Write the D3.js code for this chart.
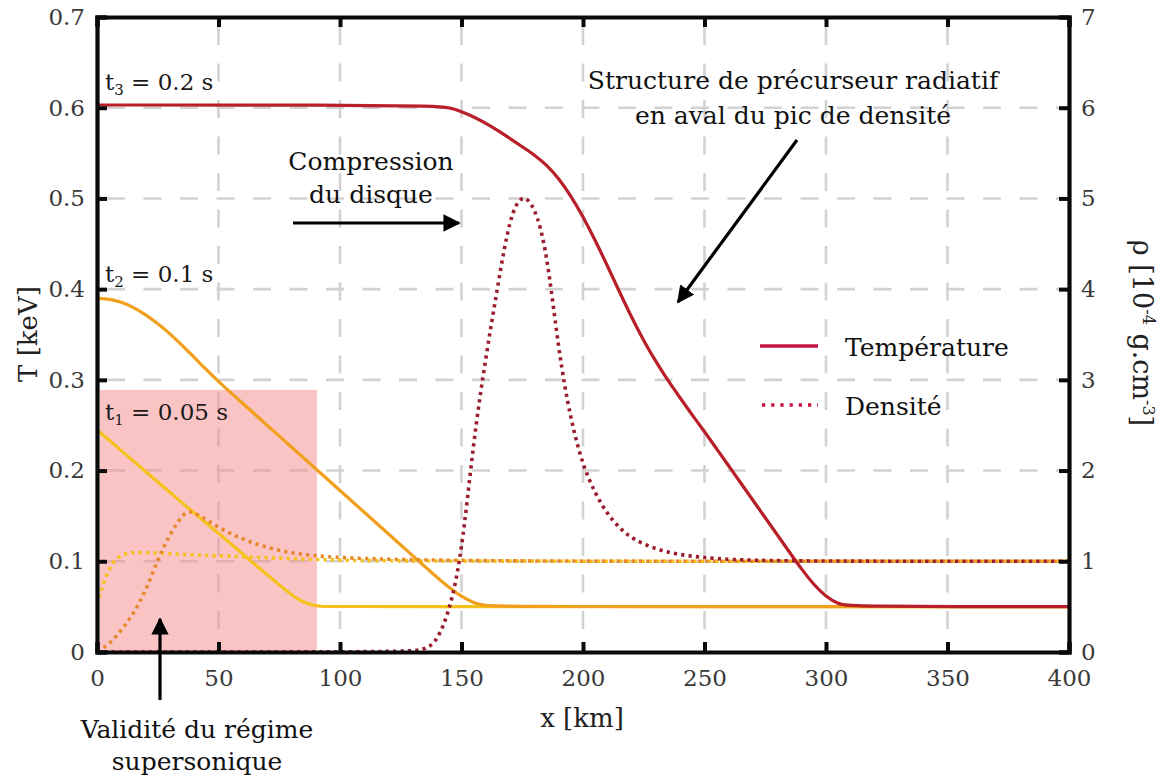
<!DOCTYPE html>
<html>
<head>
<meta charset="utf-8">
<script src="https://cdn.jsdelivr.net/npm/d3@7/dist/d3.min.js"></script>
<style>
  html, body { margin: 0; padding: 0; background: #fff; }
  svg { display: block; }
  text { font-family: "DejaVu Serif", "Liberation Serif", serif; }
</style>
</head>
<body>
<svg id="chart" width="1169" height="780"></svg>
<script>
// ---------- DATA ----------
const xTicks = [0, 50, 100, 150, 200, 250, 300, 350, 400];
const tTicks = [0, 0.1, 0.2, 0.3, 0.4, 0.5, 0.6, 0.7];
const tTickLabels = ["0", "0.1", "0.2", "0.3", "0.4", "0.5", "0.6", "0.7"];
const rhoTicks = [0, 1, 2, 3, 4, 5, 6, 7];

// t1 = 0.05 s
const t1TempX = [0, 10, 20, 30, 40, 50, 60, 70, 75, 80, 84, 88, 92, 100, 400];
const t1TempY = [0.245, 0.222, 0.199, 0.176, 0.153, 0.131, 0.108, 0.085, 0.074, 0.063, 0.056, 0.052, 0.050, 0.050, 0.050];
const t1DensX = [0, 2, 5, 8, 12, 16, 25, 40, 60, 80, 100, 130, 400];
const t1DensY = [0.52, 0.72, 0.92, 1.04, 1.09, 1.10, 1.09, 1.07, 1.05, 1.03, 1.01, 1.00, 1.00];

// t2 = 0.1 s
const t2TempX = [0, 5, 10, 15, 20, 25, 30, 35, 40, 45, 50, 60, 70, 80, 90, 100, 110, 120, 125, 130, 135, 140, 145, 150, 155, 160, 165, 400];
const t2TempY = [0.390, 0.389, 0.386, 0.380, 0.372, 0.362, 0.351, 0.338, 0.325, 0.311, 0.298, 0.274, 0.250, 0.226, 0.202, 0.178, 0.154, 0.130, 0.118, 0.106, 0.094, 0.082, 0.071, 0.061, 0.054, 0.051, 0.050, 0.050];
const t2DensX = [0, 5, 10, 15, 20, 25, 30, 35, 38, 42, 50, 60, 70, 80, 90, 100, 120, 150, 180, 400];
const t2DensY = [0.01, 0.08, 0.24, 0.42, 0.67, 1.02, 1.30, 1.51, 1.56, 1.51, 1.37, 1.24, 1.15, 1.09, 1.06, 1.04, 1.02, 1.01, 1.00, 1.00];

// t3 = 0.2 s
const t3TempX = [0, 100, 140, 145, 150, 155, 160, 165, 170, 175, 180, 185, 190, 195, 200, 205, 210, 215, 220, 225, 230, 235, 240, 245, 250, 255, 260, 265, 270, 275, 280, 285, 290, 295, 300, 305, 310, 400];
const t3TempY = [0.603, 0.603, 0.602, 0.600, 0.596, 0.590, 0.583, 0.575, 0.566, 0.557, 0.548, 0.537, 0.522, 0.503, 0.480, 0.454, 0.426, 0.397, 0.369, 0.343, 0.320, 0.299, 0.280, 0.261, 0.243, 0.224, 0.205, 0.186, 0.167, 0.148, 0.129, 0.110, 0.091, 0.074, 0.061, 0.053, 0.050, 0.050];
const t3DensX = [0, 125, 135, 140, 145, 150, 155, 160, 165, 170, 175, 180, 185, 190, 195, 200, 205, 210, 215, 220, 230, 240, 250, 260, 280, 400];
const t3DensY = [0, 0, 0.02, 0.12, 0.45, 1.05, 2.35, 3.25, 4.05, 4.82, 5.06, 4.92, 4.45, 3.30, 2.55, 2.05, 1.75, 1.52, 1.37, 1.25, 1.13, 1.07, 1.04, 1.02, 1.00, 1.00];

const timeLabels = [
  { sub: "3", val: "0.2 s", baseT: 0.619 },
  { sub: "2", val: "0.1 s", baseT: 0.408 },
  { sub: "1", val: "0.05 s", baseT: 0.256 }
];
const supersonicEdge = [0, 90.5]; // km
const supersonicTop = 0.289;       // keV

// ---------- LAYOUT ----------
const svg = d3.select("#chart");
const x = d3.scaleLinear().domain([0, 400]).range([97, 1069]);
const yT = d3.scaleLinear().domain([0, 0.7]).range([652, 17]);
const yR = d3.scaleLinear().domain([0, 7]).range([652, 17]);

const zip = (xs, ys) => xs.map((v, i) => [v, ys[i]]);

// grid
const grid = svg.append("g");
grid.selectAll("line.gx").data(xTicks.slice(1, -1)).join("line")
  .attr("x1", d => x(d)).attr("x2", d => x(d))
  .attr("y1", yT(0.7)).attr("y2", yT(0))
  .attr("stroke", "#d2d2d2").attr("stroke-width", 2.6)
  .attr("stroke-dasharray", "18,18.5").attr("stroke-dashoffset", -10);
grid.selectAll("line.gy").data(tTicks.slice(1, -1)).join("line")
  .attr("x1", x(0)).attr("x2", x(400))
  .attr("y1", d => yT(d)).attr("y2", d => yT(d))
  .attr("stroke", "#d2d2d2").attr("stroke-width", 2.6)
  .attr("stroke-dasharray", "18,18.5").attr("stroke-dashoffset", -10);

// pink region (validity of supersonic regime)
svg.append("rect")
  .attr("x", x(supersonicEdge[0]) + 3).attr("y", yT(supersonicTop))
  .attr("width", x(supersonicEdge[1]) - x(supersonicEdge[0]) - 3)
  .attr("height", yT(0) - yT(supersonicTop))
  .attr("fill", "#f78a8a").attr("opacity", 0.5);

// ---------- CURVES ----------
const lineT = d3.line().x(d => x(d[0])).y(d => yT(d[1])).curve(d3.curveBasis);
const lineR = d3.line().x(d => x(d[0])).y(d => yR(d[1])).curve(d3.curveBasis);

const curves = [
  { data: zip(t1TempX, t1TempY), gen: lineT, color: "#f5c21d", dash: null },
  { data: zip(t1DensX, t1DensY), gen: lineR, color: "#f5c21d", dash: "3.2,4.2" },
  { data: zip(t2TempX, t2TempY), gen: lineT, color: "#f1a01d", dash: null },
  { data: zip(t2DensX, t2DensY), gen: lineR, color: "#e7872c", dash: "3.2,4.2" },
  { data: zip(t3TempX, t3TempY), gen: lineT, color: "#b91f28", dash: null },
  { data: zip(t3DensX, t3DensY), gen: lineR, color: "#9a1c2e", dash: "3.2,4.2" }
];
svg.append("g").selectAll("path").data(curves).join("path")
  .attr("d", d => d.gen(d.data))
  .attr("fill", "none")
  .attr("stroke", d => d.color)
  .attr("stroke-width", d => d.dash ? 3.6 : 3.2)
  .attr("stroke-dasharray", d => d.dash)
  .attr("stroke-linejoin", "round");

// ---------- AXES ----------
const tickCol = "#3a3a3a";
const axB = svg.append("g").attr("transform", `translate(0,${yT(0)})`)
  .call(d3.axisBottom(x).tickValues(xTicks).tickSize(-10).tickPadding(18).tickFormat(d3.format("d")));
const axTop = svg.append("g").attr("transform", `translate(0,${yT(0.7)})`)
  .call(d3.axisTop(x).tickValues(xTicks).tickSize(-10).tickFormat(""));
const axL = svg.append("g").attr("transform", `translate(${x(0)},0)`)
  .call(d3.axisLeft(yT).tickValues(tTicks).tickSize(-10).tickPadding(12).tickFormat((d, i) => tTickLabels[i]));
const axR = svg.append("g").attr("transform", `translate(${x(400)},0)`)
  .call(d3.axisRight(yR).tickValues(rhoTicks).tickSize(-10).tickPadding(12).tickFormat(d3.format("d")));

[axB, axTop, axL, axR].forEach(a => {
  a.select(".domain").attr("stroke", "#0a0a0a").attr("stroke-width", 4.2);
  a.selectAll(".tick line").attr("stroke", "#0a0a0a").attr("stroke-width", 4);
  a.selectAll(".tick text").attr("fill", tickCol).style("font-size", "23px")
    .style("font-family", "'DejaVu Serif', serif");
});
axB.selectAll(".tick text").attr("dy", "0.71em");

// ---------- AXIS TITLES ----------
svg.append("text").attr("x", 582).attr("y", 727).attr("text-anchor", "middle")
  .style("font-size", "26px").attr("fill", "#222").text("x [km]");
svg.append("text").attr("transform", "translate(37,334) rotate(-90)").attr("text-anchor", "middle")
  .style("font-size", "26px").attr("fill", "#222").text("T [keV]");
const rt = svg.append("text").attr("transform", "translate(1133,333) rotate(90)").attr("text-anchor", "middle")
  .style("font-size", "27px").attr("fill", "#222");
rt.append("tspan").text("ρ [10");
rt.append("tspan").attr("dy", -10).style("font-size", "16px").text("-4");
rt.append("tspan").attr("dy", 10).text(" g.cm");
rt.append("tspan").attr("dy", -10).style("font-size", "16px").text("-3");
rt.append("tspan").attr("dy", 10).text("]");

// ---------- TIME LABELS ----------
const tl = svg.append("g").selectAll("text").data(timeLabels).join("text")
  .attr("x", 105).attr("y", d => yT(d.baseT))
  .style("font-size", "23px").attr("fill", "#1a1a1a");
tl.append("tspan").text("t");
tl.append("tspan").attr("dy", 5).style("font-size", "15px").text(d => d.sub);
tl.append("tspan").attr("dy", -5).text(d => " = " + d.val);

// ---------- ANNOTATIONS ----------
const ann = svg.append("g").style("font-size", "25px").attr("fill", "#111").attr("text-anchor", "middle");
ann.append("text").attr("x", 371).attr("y", 170).text("Compression");
ann.append("text").attr("x", 371).attr("y", 203).text("du disque");
ann.append("text").attr("x", 793).attr("y", 89).text("Structure de précurseur radiatif");
ann.append("text").attr("x", 793).attr("y", 124).text("en aval du pic de densité");
ann.append("text").attr("x", 197).attr("y", 738).text("Validité du régime");
ann.append("text").attr("x", 197).attr("y", 770).text("supersonique");

svg.append("defs").append("marker").attr("id", "ah")
  .attr("viewBox", "0 0 10 10").attr("refX", 9).attr("refY", 5)
  .attr("markerWidth", 5.4).attr("markerHeight", 5.4).attr("orient", "auto")
  .attr("markerUnits", "strokeWidth")
  .append("path").attr("d", "M0,0 L10,5 L0,10 Z").attr("fill", "#000");

const arrows = [
  [293, 223, 459, 223],
  [797, 140, 678, 302],
  [160, 700, 160, 619]
];
svg.append("g").selectAll("line").data(arrows).join("line")
  .attr("x1", d => d[0]).attr("y1", d => d[1]).attr("x2", d => d[2]).attr("y2", d => d[3])
  .attr("stroke", "#000").attr("stroke-width", 3.2).attr("marker-end", "url(#ah)");

// ---------- LEGEND ----------
const leg = svg.append("g");
leg.append("line").attr("x1", 760).attr("x2", 818).attr("y1", 346).attr("y2", 346)
  .attr("stroke", "#c4123f").attr("stroke-width", 3.4);
leg.append("line").attr("x1", 762).attr("x2", 818).attr("y1", 405).attr("y2", 405)
  .attr("stroke", "#c4123f").attr("stroke-width", 3.6).attr("stroke-dasharray", "3.2,6")
  .attr("stroke-linecap", "butt");
leg.append("text").attr("x", 845).attr("y", 356).style("font-size", "25px").attr("fill", "#111").text("Température");
leg.append("text").attr("x", 845).attr("y", 415).style("font-size", "25px").attr("fill", "#111").text("Densité");
</script>
</body>
</html>
